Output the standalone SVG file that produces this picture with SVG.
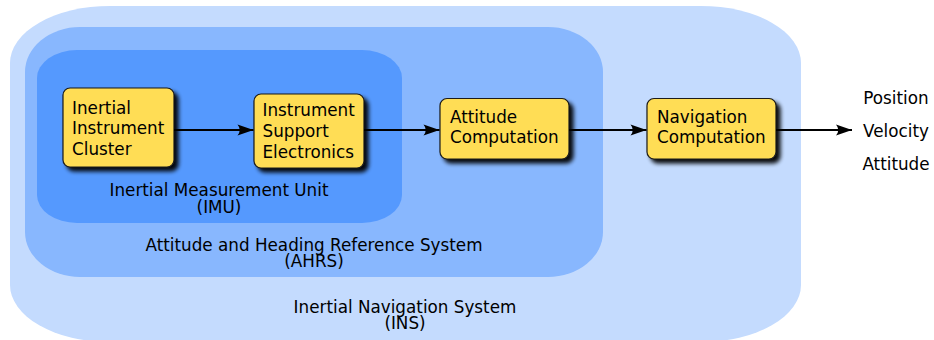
<svg xmlns="http://www.w3.org/2000/svg" width="934" height="340" viewBox="0 0 934 340">
  <defs>
    <filter id="shadow" x="-20%" y="-20%" width="150%" height="160%">
      <feGaussianBlur in="SourceAlpha" stdDeviation="2.2"/>
      <feOffset dx="4" dy="4" result="blur"/>
      <feComponentTransfer><feFuncA type="linear" slope="0.95"/></feComponentTransfer>
      <feMerge><feMergeNode/><feMergeNode in="SourceGraphic"/></feMerge>
    </filter>
    <marker id="arrow" viewBox="-17 -6 18 12" refX="0" refY="0" markerWidth="18" markerHeight="12" markerUnits="userSpaceOnUse" orient="auto">
      <path d="M0,0 L-16,-5.5 Q-11.5,0 -16,5.5 Z" fill="#000"/>
    </marker>
  </defs>
  <style>
    text { font-family: "DejaVu Sans", "Liberation Sans", sans-serif; font-size: 16.8px; fill: #000; }
    .c { text-anchor: middle; }
    .box { fill: #ffdd55; stroke: #1a1a1a; stroke-width: 1.2; filter: url(#shadow); }
    .link { fill: none; stroke: #000; stroke-width: 2; marker-end: url(#arrow); }
  </style>

  <!-- nested system regions -->
  <g id="ins">
    <rect x="10" y="6" width="791" height="336" rx="100" ry="57" fill="#c4dbfe"/>
    <text class="c" x="405" y="312.7">Inertial Navigation System</text>
    <text class="c" x="405" y="329.3">(INS)</text>
  </g>
  <g id="ahrs">
    <rect x="25" y="27" width="578" height="250" rx="55" ry="45" fill="#88b7fe"/>
    <text class="c" x="314" y="251">Attitude and Heading Reference System</text>
    <text class="c" x="314" y="267">(AHRS)</text>
  </g>
  <g id="imu">
    <rect x="37" y="50" width="365" height="173" rx="40" ry="28" fill="#5599fe"/>
    <text class="c" x="219" y="196">Inertial Measurement Unit</text>
    <text class="c" x="219" y="212.5">(IMU)</text>
  </g>

  <!-- processing blocks -->
  <g id="cluster">
    <rect class="box" x="63" y="88" width="111" height="79" rx="7"/>
    <text x="72" y="113.5">Inertial</text>
    <text x="72" y="134.3">Instrument</text>
    <text x="72" y="155.1">Cluster</text>
  </g>
  <g id="electronics">
    <rect class="box" x="254" y="94" width="110" height="74" rx="7"/>
    <text x="262.5" y="115.5">Instrument</text>
    <text x="262.5" y="136.5">Support</text>
    <text x="262.5" y="157.5">Electronics</text>
  </g>
  <g id="attitude">
    <rect class="box" x="440" y="98.5" width="129" height="60.5" rx="7"/>
    <text x="450" y="122.7">Attitude</text>
    <text x="450" y="143.3">Computation</text>
  </g>
  <g id="navigation">
    <rect class="box" x="647" y="98.5" width="129" height="60.5" rx="7"/>
    <text x="657" y="122.7">Navigation</text>
    <text x="657" y="143.3">Computation</text>
  </g>
  <g id="outputs">
    <text class="c" x="896" y="103.5">Position</text>
    <text class="c" x="896" y="136.5">Velocity</text>
    <text class="c" x="896" y="170">Attitude</text>
  </g>

  <!-- signal flow -->
  <g id="connectors">
    <line class="link" x1="174" y1="130" x2="253.5" y2="130"/>
    <line class="link" x1="364" y1="130" x2="439.5" y2="130"/>
    <line class="link" x1="569" y1="130" x2="646.5" y2="130"/>
    <line class="link" x1="776" y1="130" x2="852" y2="130"/>
  </g>
</svg>
